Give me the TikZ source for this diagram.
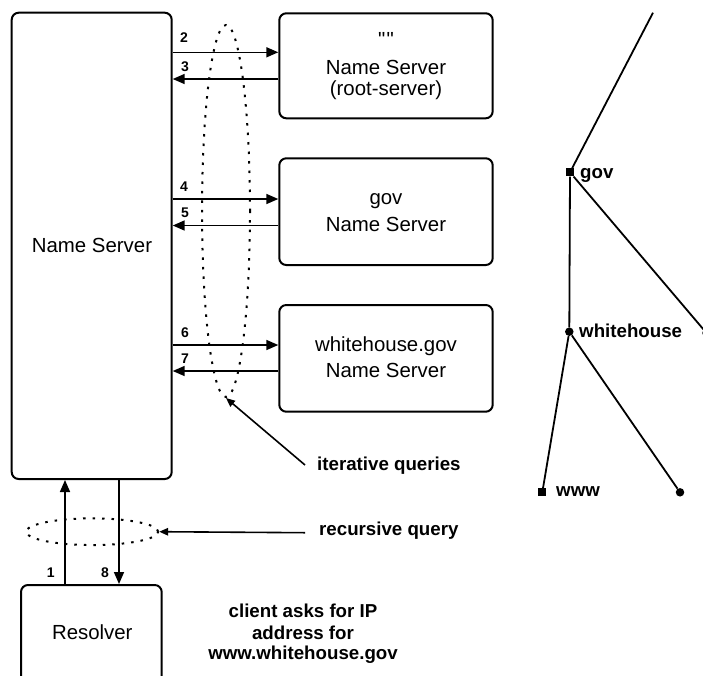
\documentclass[tikz,border=0pt]{standalone}
\usepackage{fontspec}
\setmainfont{Liberation Sans}
\newfontfamily\plainquotefont{Liberation Sans}[Ligatures=TeXOff]
\usetikzlibrary{arrows.meta,shapes.geometric}
\begin{document}
\begin{tikzpicture}[x=1pt,y=-1pt,
  srvbox/.style={draw, line width=2pt, rounded corners=7pt, rectangle, inner sep=0pt},
  boxtxt/.style={font=\fontsize{20.4}{24}\selectfont, inner sep=0pt, anchor=base},
  lbl/.style={font=\fontsize{18.7}{22}\selectfont\bfseries, inner sep=0pt},
  numlbl/.style={font=\fontsize{14}{16}\selectfont\bfseries, inner sep=0pt},
  arr/.style={line width=1.6pt, -{Triangle[length=12pt,width=10pt]}},
  sarr/.style={line width=1.6pt, -{Triangle[length=9pt,width=7.5pt]}},
  dotell/.style={draw, ellipse, line width=2pt, dash pattern=on 2.5pt off 7pt, inner sep=0pt},
  tline/.style={line width=1.8pt},
  tdot/.style={circle, fill=black, minimum size=8.5pt, inner sep=0pt},
  tsq/.style={rectangle, fill=black, minimum size=8pt, inner sep=0pt}]
\path[use as bounding box] (0,0) rectangle (703,675);
\clip (0,0) rectangle (703,675);

% boxes
\node[srvbox, minimum width=160pt, minimum height=466.3pt] (ns) at (91.7,245.85) {};
\node[srvbox, minimum width=213.4pt, minimum height=105pt] (root) at (386,65.8) {};
\node[srvbox, minimum width=213.4pt, minimum height=106.7pt] (gov) at (386,211.65) {};
\node[srvbox, minimum width=213.4pt, minimum height=106.7pt] (wh) at (386,358.35) {};
\node[srvbox, minimum width=140.7pt, minimum height=105pt] (res) at (91.35,637.5) {};

% box texts
\node[boxtxt] (nstxt) at (92,252.3) {Name Server};
\node[boxtxt] (rootq) at (386,46) {\plainquotefont "\kern1.5pt"};
\node[boxtxt] (roottxt) at (386,74) {Name Server};
\node[boxtxt] (rootsub) at (386,95) {(root-server)};
\node[boxtxt] (govtxt) at (386,204) {gov};
\node[boxtxt] (govns) at (386,231.3) {Name Server};
\node[boxtxt] (whtxt) at (386,351) {whitehouse.gov};
\node[boxtxt] (whns) at (386,377.3) {Name Server};
\node[boxtxt] (restxt) at (92.3,639) {Resolver};

% iterative query arrows
\draw[arr] (ns.east |- 0,52.3) -- (root.west |- 0,52.3);
\draw[arr] (root.west |- 0,79) -- (ns.east |- 0,79);
\draw[arr] (ns.east |- 0,199) -- (gov.west |- 0,199);
\draw[arr] (gov.west |- 0,225.5) -- (ns.east |- 0,225.5);
\draw[arr] (ns.east |- 0,345) -- (wh.west |- 0,345);
\draw[arr] (wh.west |- 0,371) -- (ns.east |- 0,371);

% resolver arrows
\draw[arr] (res.north -| 65,0) -- (ns.south -| 65,0);
\draw[arr] (ns.south -| 119,0) -- (res.north -| 119,0);

% number labels
\node[numlbl] (n2) at (184,38) {2};
\node[numlbl] (n3) at (185,66.5) {3};
\node[numlbl] (n4) at (184,187) {4};
\node[numlbl] (n5) at (185,213) {5};
\node[numlbl] (n6) at (185,332.7) {6};
\node[numlbl] (n7) at (185,358.3) {7};
\node[numlbl] (n1) at (50.7,572.3) {1};
\node[numlbl] (n8) at (105,572.3) {8};

% dotted ellipses
\node[dotell, minimum width=48pt, minimum height=372pt] (iter) at (226,211) {};
\node[dotell, minimum width=132pt, minimum height=26.7pt] (rec) at (92.2,531.7) {};

% annotation labels
\node[lbl, anchor=base west, inner xsep=12pt] (itlab) at (305,470) {iterative queries};
\node[lbl, anchor=base west, inner xsep=14pt] (reclab) at (305,535) {recursive query};
\draw[sarr] (itlab.west |- 0,465) -- (iter.south);
\draw[sarr] (reclab.west |- 0,532.7) -- (rec.east);

% client text
\node[lbl, anchor=base] (cl1) at (303,617.3) {client asks for IP};
\node[lbl, anchor=base] (cl2) at (303,639.3) {address for};
\node[lbl, anchor=base] (cl3) at (303,659.5) {www.whitehouse.gov};

% tree
\coordinate (ttop) at (653,12.7);
\node[tsq] (tgov) at (570,172.3) {};
\node[tdot] (twh) at (569.3,331.7) {};
\node[tsq] (twww) at (542.3,492.3) {};
\node[tdot] (tleaf) at (680,492.3) {};
\node[tdot] (tright) at (706.5,333) {};
\draw[tline] (ttop) -- (tgov);
\draw[tline] (tgov) -- (tright);
\draw[tline] (tgov) -- (twh);
\draw[tline] (twh) -- (twww);
\draw[tline] (twh) -- (tleaf);
\node[lbl, anchor=base west] (lgov) at (580,178) {gov};
\node[lbl, anchor=base west] (lwh) at (579,337.3) {whitehouse};
\node[lbl, anchor=base west] (lwww) at (556,496.7) {www};
\end{tikzpicture}
\end{document}
